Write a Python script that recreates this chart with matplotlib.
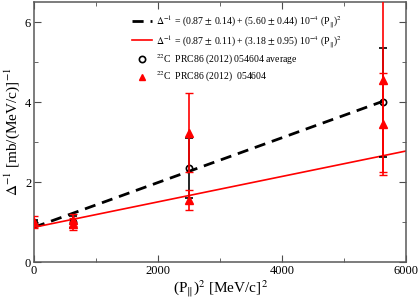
import matplotlib
matplotlib.use("Agg")
import matplotlib.pyplot as plt
import matplotlib.lines as mlines
from matplotlib.ticker import MultipleLocator

plt.rcParams["font.family"] = ["Liberation Serif", "DejaVu Serif"]
plt.rcParams["mathtext.fontset"] = "stix"

# ── Data ─────────────────────────────────────────────────────────────────────
# (P||)^2 positions
x_avg = [0, 625, 2500, 5625]
y_avg = [0.98, 1.00, 2.35, 4.00]
err_avg = [0.08, 0.15, 0.75, 1.36]

x_exp = [0, 625, 625, 2500, 2500, 5625, 5625]
y_exp = [1.00, 1.05, 0.95, 3.24, 1.56, 4.55, 3.45]
err_exp = [0.15, 0.16, 0.14, 0.98, 0.25, 2.30, 1.28]

# linear fits: intercept, slope (per 10^-4)
fit_black = (0.87, 5.60)
fit_red = (0.87, 3.18)
fit_black_x = [0, 5625]
fit_red_x = [0, 6000]

PP = r"(P$_{\Vert}$)$^2$"
lbl_black = r"$\Delta^{-1}$ = (0.87 $\pm$ 0.14) + (5.60 $\pm$ 0.44) 10$^{-4}$ " + PP
lbl_red = r"$\Delta^{-1}$ = (0.87 $\pm$ 0.11) + (3.18 $\pm$ 0.95) 10$^{-4}$ " + PP
lbl_avg = r"$^{22}$C  PRC86 (2012) 054604 average"
lbl_exp = r"$^{22}$C  PRC86 (2012)  054604"

# ── Plot ─────────────────────────────────────────────────────────────────────
fig = plt.figure(figsize=(4.2, 3.03), dpi=100)
ax = fig.add_axes([0.081, 0.135, 0.886, 0.858])

yb = [fit_black[0] + fit_black[1] * 1e-4 * x for x in fit_black_x]
yr = [fit_red[0] + fit_red[1] * 1e-4 * x for x in fit_red_x]
ax.plot(fit_black_x, yb, color="black", lw=2, dashes=(4, 2.5))
ax.plot(fit_red_x, yr, color="red", lw=1.2)

ax.errorbar(x_avg, y_avg, yerr=err_avg, fmt="o", mfc="none", mec="black",
            mew=1.2, ms=4.5, ecolor="black", elinewidth=1.2, capsize=3,
            zorder=3)
ax.errorbar(x_exp, y_exp, yerr=err_exp, fmt="^", color="red", ms=6,
            elinewidth=1.2, capsize=3, zorder=4)

ax.set_xlim(0, 6000)
ax.set_ylim(0, 6.5)
ax.xaxis.set_major_locator(MultipleLocator(2000))
ax.xaxis.set_minor_locator(MultipleLocator(1000))
ax.yaxis.set_major_locator(MultipleLocator(2))
ax.yaxis.set_minor_locator(MultipleLocator(1))
ax.tick_params(which="both", direction="in", top=True, right=True,
               labelsize=9, color="0.3", pad=2)
ax.tick_params(which="major", length=5)
ax.tick_params(which="minor", length=3)
for s in ax.spines.values():
    s.set_color("0.35")
    s.set_linewidth(1.1)

ax.set_xlabel(r"(P$_{\Vert}$)$^2$ [MeV/c]$^2$", fontsize=11, labelpad=1)
ax.set_ylabel(r"$\Delta^{-1}$ [mb/(MeV/c)]$^{-1}$", fontsize=11, labelpad=2)

handles = [
    mlines.Line2D([], [], color="black", lw=2, dashes=(4, 2.5), label=lbl_black),
    mlines.Line2D([], [], color="red", lw=1.2, label=lbl_red),
    mlines.Line2D([], [], ls="none", marker="o", mfc="none", mec="black",
                  mew=1.2, ms=4.5, label=lbl_avg),
    mlines.Line2D([], [], ls="none", marker="^", color="red", ms=5,
                  label=lbl_exp),
]
ax.legend(handles=handles, loc="upper left", bbox_to_anchor=(0.24, 0.99),
          frameon=False, fontsize=7, handlelength=2.0, handletextpad=0.5,
          labelspacing=0.35, borderaxespad=0.5)

fig.savefig("out.png", dpi=100)
